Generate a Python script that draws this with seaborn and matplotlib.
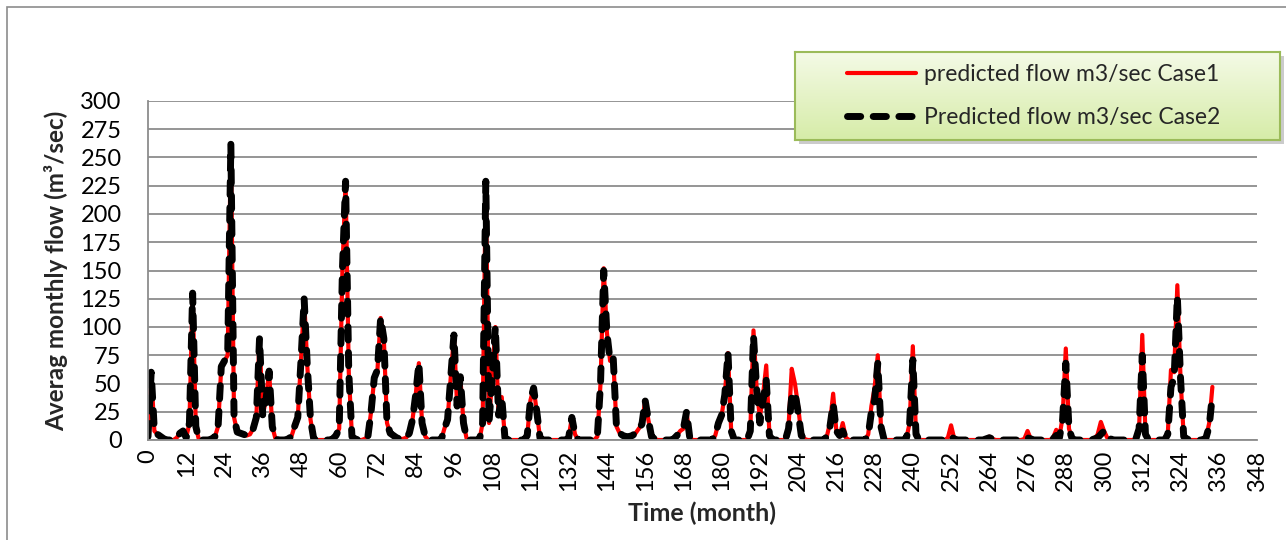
import numpy as np
import pandas as pd
import matplotlib
matplotlib.use("Agg")
import matplotlib.pyplot as plt
import seaborn as sns
from matplotlib.patches import Rectangle
from matplotlib.lines import Line2D
from matplotlib.colors import LinearSegmentedColormap

# ---------------- data (monthly values) ----------------
case1 = [
    3, 60, 8, 5, 3, 1, 0, 0, 0, 2, 6, 8,            # 0-11
    2, 15, 130, 12, 0, 0, 0, 0, 1, 3, 12, 65,       # 12-23
    70, 75, 262, 20, 7, 6, 5, 4, 5, 10, 20, 90,     # 24-35
    22, 35, 61, 12, 1, 0, 0, 0, 1, 3, 12, 20,       # 36-47
    70, 125, 65, 18, 1, 0, 0, 0, 0, 0, 1, 4,        # 48-59
    10, 150, 229, 60, 3, 1, 0, 0, 1, 3, 25, 55,     # 60-71
    62, 108, 90, 15, 6, 4, 2, 1, 1, 2, 6, 18,       # 72-83
    40, 68, 15, 3, 0, 0, 0, 0, 0, 10, 18, 55,       # 84-95
    93, 30, 56, 15, 1, 0, 0, 0, 0, 15, 229, 15,     # 96-107
    55, 100, 22, 38, 2, 0, 0, 0, 0, 0, 0, 4,        # 108-119
    35, 46, 25, 2, 0, 0, 0, 0, 0, 0, 0, 0,          # 120-131
    2, 20, 5, 0, 0, 0, 0, 0, 0, 3, 50, 152,         # 132-143
    95, 70, 72, 12, 6, 4, 3, 3, 4, 6, 10, 14,       # 144-155
    35, 18, 3, 1, 0, 0, 0, 0, 0, 1, 4, 8,           # 156-167
    10, 25, 2, 0, 0, 0, 0, 0, 0, 0, 4, 15,          # 168-179
    22, 40, 77, 8, 0, 0, 0, 0, 0, 8, 97, 45,        # 180-191
    20, 40, 66, 5, 0, 0, 0, 0, 0, 12, 63, 50,       # 192-203
    30, 5, 1, 0, 0, 0, 0, 0, 0, 3, 15, 41,          # 204-215
    8, 3, 15, 2, 0, 0, 0, 0, 0, 0, 5, 30,           # 216-227
    46, 75, 12, 0, 0, 0, 0, 0, 0, 0, 2, 15,         # 228-239
    83, 5, 0, 0, 0, 0, 0, 0, 0, 0, 0, 2,            # 240-251
    13, 1, 0, 0, 0, 0, 0, 0, 0, 0, 0, 1,            # 252-263
    3, 1, 0, 0, 0, 0, 0, 0, 0, 0, 0, 1,             # 264-275
    8, 1, 0, 0, 0, 0, 0, 0, 2, 9, 3, 20,            # 276-287
    81, 10, 1, 0, 0, 0, 0, 0, 0, 1, 5, 16,          # 288-299
    8, 2, 0, 0, 0, 0, 0, 0, 0, 0, 1, 10,            # 300-311
    93, 5, 0, 0, 0, 0, 0, 0, 5, 62, 60, 137,        # 312-323
    55, 3, 1, 0, 0, 0, 0, 0, 2, 15, 47,             # 324-334
]
case2 = [
    3, 60, 8, 5, 3, 1, 0, 0, 0, 2, 6, 8,
    2, 15, 130, 12, 0, 0, 0, 0, 1, 3, 12, 65,
    70, 75, 262, 20, 7, 6, 5, 4, 5, 10, 20, 90,
    22, 35, 61, 12, 1, 0, 0, 0, 1, 3, 12, 20,
    70, 125, 65, 18, 1, 0, 0, 0, 0, 0, 1, 4,
    10, 150, 229, 60, 3, 1, 0, 0, 1, 3, 25, 55,
    62, 108, 90, 15, 6, 4, 2, 1, 1, 2, 6, 18,
    40, 68, 15, 3, 0, 0, 0, 0, 0, 10, 18, 55,
    93, 30, 56, 15, 1, 0, 0, 0, 0, 15, 229, 15,
    55, 100, 22, 38, 2, 0, 0, 0, 0, 0, 0, 4,
    35, 46, 25, 2, 0, 0, 0, 0, 0, 0, 0, 0,
    2, 20, 5, 0, 0, 0, 0, 0, 0, 3, 50, 150,
    95, 70, 72, 12, 6, 4, 3, 3, 4, 6, 10, 14,
    35, 18, 3, 1, 0, 0, 0, 0, 0, 1, 4, 8,
    10, 25, 2, 0, 0, 0, 0, 0, 0, 0, 4, 15,
    22, 40, 77, 8, 0, 0, 0, 0, 0, 8, 92, 45,
    15, 35, 53, 4, 0, 0, 0, 0, 0, 10, 38, 42,
    25, 4, 1, 0, 0, 0, 0, 0, 0, 3, 12, 32,
    8, 4, 8, 1, 0, 0, 0, 0, 0, 0, 4, 25,
    35, 68, 12, 0, 0, 0, 0, 0, 0, 0, 2, 15,
    71, 5, 0, 0, 0, 0, 0, 0, 0, 0, 0, 1,
    3, 1, 0, 0, 0, 0, 0, 0, 0, 0, 0, 1,
    2, 1, 0, 0, 0, 0, 0, 0, 0, 0, 0, 1,
    2, 1, 0, 0, 0, 0, 0, 0, 1, 4, 2, 18,
    68, 10, 1, 0, 0, 0, 0, 0, 0, 1, 2, 5,
    8, 3, 1, 0, 0, 0, 0, 0, 0, 0, 1, 10,
    75, 5, 0, 0, 0, 0, 0, 0, 5, 47, 55, 127,
    55, 3, 1, 0, 0, 0, 0, 0, 2, 12, 40,
]
months = list(range(len(case1)))
x_ticks = list(range(0, 349, 12))
y_ticks = list(range(0, 301, 25))
label1 = "predicted flow m3/sec Case1"
label2 = "Predicted flow m3/sec Case2"
x_title = "Time (month)"
y_title = "Averag monthly flow (m³/sec)"

# ---------------- drawing ----------------
sns.set_style("white")
plt.rcParams['font.family'] = ['Lato', 'DejaVu Sans']

W, H = 1286, 540
fig = plt.figure(figsize=(W / 100, H / 100), dpi=100)
ax = fig.add_axes([148 / W, 1 - 440 / H, 1109 / W, 339 / H])

df = pd.DataFrame({'month': months, 'case1': case1, 'case2': case2})
sns.lineplot(data=df, x='month', y='case1', ax=ax, color='#ff0000', lw=3, legend=False)
sns.lineplot(data=df, x='month', y='case2', ax=ax, color='black', lw=5, legend=False)
dash_pat = [1.9, 1.8]
lines = ax.get_lines()
lines[1].set_dashes(dash_pat)
lines[1].set_dash_capstyle('round')

ax.set_xlim(0, 348)
ax.set_ylim(0, 300)
ax.set_xticks(x_ticks)
ax.set_xticklabels([str(t) for t in x_ticks], rotation=90)
ax.set_yticks(y_ticks)
ax.grid(axis='y', color='#8c8c8c', lw=1.3)
ax.grid(axis='x', visible=False)
ax.set_axisbelow(True)
for s in ['top', 'right']:
    ax.spines[s].set_visible(False)
for s in ['left', 'bottom']:
    ax.spines[s].set_color('#8c8c8c')
    ax.spines[s].set_linewidth(1.3)
ax.tick_params(axis='y', length=0, pad=19, labelsize=17, labelcolor='black')
ax.tick_params(axis='x', length=0, pad=7, labelsize=17, labelcolor='black')

ax.set_xlabel(x_title, fontsize=18, fontweight='bold')
ax.set_ylabel(y_title, fontsize=17.5, fontweight='bold')
ax.xaxis.label.set_va('center')
ax.yaxis.label.set_va('center')
ax.xaxis.set_label_coords(0.5, (440 - 513) / 339)
ax.yaxis.set_label_coords((56 - 148) / 1109, 0.5)

# legend box with gradient and shadow
fig.patches.append(Rectangle((799 / W, 1 - 144 / H), 485 / W, 88 / H,
                             transform=fig.transFigure, facecolor='#b5b5b5',
                             edgecolor='none', alpha=0.7, zorder=2))
gax = fig.add_axes([795 / W, 1 - 140 / H, 485 / W, 88 / H], zorder=3)
grad = np.linspace(0, 1, 100).reshape(-1, 1)
cmap = LinearSegmentedColormap.from_list('g', ['#f4fae6', '#d6eca8'])
gax.imshow(grad, aspect='auto', cmap=cmap, extent=[0, 1, 0, 1], origin='upper')
gax.set_xticks([])
gax.set_yticks([])
for s in gax.spines.values():
    s.set_color('#9bbb59')
    s.set_linewidth(1.5)

handles = [Line2D([], [], color='#ff0000', lw=3),
           Line2D([], [], color='black', lw=5, dashes=dash_pat, dash_capstyle='round')]
leg = fig.legend(handles, [label1, label2], loc='center',
                 bbox_to_anchor=(1034 / W, 1 - 96 / H), frameon=False,
                 fontsize=16.5, handlelength=3.0, handletextpad=0.35, labelspacing=0.95)
leg.set_zorder(5)

# outer chart border
fig.patches.append(Rectangle((7 / W, -0.05), 1.0, 1 - 7 / H + 0.05,
                             transform=fig.transFigure, fill=False,
                             edgecolor='#8c8c8c', lw=1.2, zorder=1))

fig.savefig('out.png', dpi=100)
